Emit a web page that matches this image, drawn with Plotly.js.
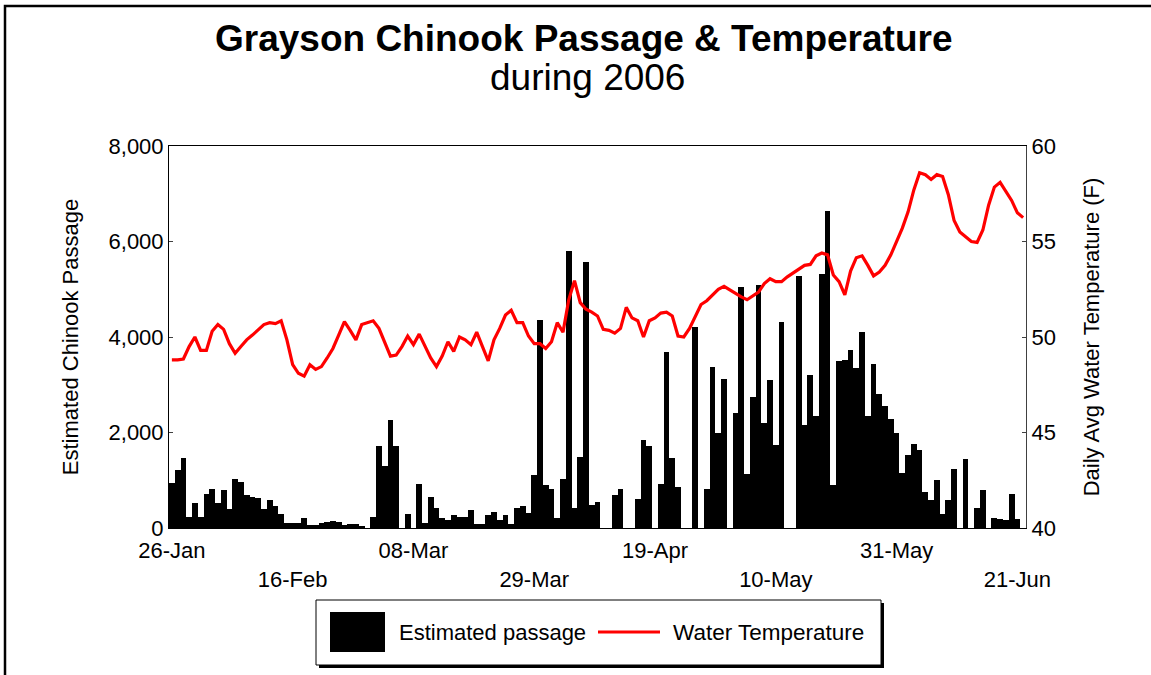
<!DOCTYPE html>
<html>
<head>
<meta charset="utf-8">
<script src="https://cdn.plot.ly/plotly-3.0.1.min.js"></script>
<style>html,body{margin:0;padding:0;background:#fff;}#chart{width:1151px;height:675px;}</style>
</head>
<body>
<div id="chart"></div>
<script>
// Daily estimated passage (fish/day), one value per day starting 26-Jan
const passage = [948,1206,1457,230,516,230,718,808,516,795,
390,1018,962,683,640,630,404,585,460,286,
110,110,98,200,60,60,110,125,145,125,
70,90,80,40,10,240,1715,1296,2270,1715,
10,286,5,927,98,655,411,216,167,265,
237,230,370,77,90,272,342,167,265,77,
425,460,320,1108,4350,892,808,216,1018,5792,
411,1485,5562,480,550,0,0,700,808,0,
0,613,1833,1715,0,927,3687,1470,857,0,
0,4203,0,808,3366,1980,3130,0,2412,5040,
1122,2740,5081,2189,3095,1736,4308,0,0,5283,
2154,3200,2356,5318,6629,892,3500,3520,3736,3353,
4098,2342,3436,2809,2551,2286,1993,1157,1520,1750,
1624,753,578,997,300,578,1241,0,1436,0,
411,795,0,202,181,160,718,195,0];

// Daily average water temperature (F)
const temperature = [48.8,48.8,48.85,49.5,50.0,49.3,49.3,50.3,50.65,50.4,
49.65,49.15,49.5,49.85,50.1,50.4,50.65,50.75,50.7,50.85,
49.85,48.55,48.1,47.95,48.55,48.3,48.45,48.9,49.4,50.1,
50.8,50.35,49.85,50.65,50.75,50.85,50.45,49.7,49.0,49.05,
49.5,50.05,49.6,50.15,49.5,48.9,48.45,49.0,49.75,49.25,
50.0,49.85,49.6,50.25,49.5,48.75,49.85,50.45,51.15,51.4,
50.75,50.75,50.05,49.65,49.65,49.4,49.75,50.75,50.25,51.95,
52.95,51.8,51.45,51.3,51.1,50.4,50.35,50.2,50.45,51.55,
51.0,50.85,50.0,50.85,51.0,51.25,51.3,51.1,50.05,50.0,
50.45,51.1,51.7,51.9,52.2,52.5,52.65,52.45,52.3,52.1,
51.95,52.15,52.35,52.8,53.05,52.9,52.9,53.15,53.35,53.5,
53.75,53.8,54.25,54.4,54.3,53.25,52.9,52.2,53.45,54.15,
54.25,53.75,53.2,53.4,53.75,54.3,55.0,55.7,56.55,57.7,
58.6,58.5,58.25,58.5,58.4,57.45,56.1,55.5,55.25,55.0,
54.95,55.6,56.9,57.85,58.1,57.6,57.15,56.5,56.25];

// Axis labels (every 21st day)
const tickDays = [0,21,42,63,84,105,126,147];
const tickLabels = ['26-Jan','16-Feb','08-Mar','29-Mar','19-Apr','10-May','31-May','21-Jun'];
const leftTicks = [0,2000,4000,6000,8000];
const rightTicks = [40,45,50,55,60];

const titleMain = 'Grayson Chinook Passage & Temperature';
const titleSub = 'during 2006';
const seriesNames = ['Estimated passage','Water Temperature'];

const dayIndex = passage.map((_, i) => i);
const FONT = 'Arial, "Liberation Sans", sans-serif';

// layout geometry helpers (pixels -> paper)
const M = {l:169, r:125, t:146, b:147};
const PW = 1151 - M.l - M.r, PH = 675 - M.t - M.b;
const px = x => (x - M.l) / PW;
const py = y => (675 - M.b - y) / PH;

const traces = [
  {type:'bar', x:dayIndex, y:passage, name:seriesNames[0], width:1,
   marker:{color:'#000000', line:{width:0}}, yaxis:'y', hoverinfo:'x+y'},
  {type:'scatter', mode:'lines', x:dayIndex, y:temperature, name:seriesNames[1],
   line:{color:'#FF0000', width:3.2}, yaxis:'y2'}
];

const shapes = [
  // chart area frame
  {type:'rect', xref:'paper', yref:'paper', x0:px(5), y0:py(700), x1:px(1170), y1:py(6),
   line:{color:'#000', width:2.5}, fillcolor:'rgba(0,0,0,0)', layer:'above'},
  // legend shadow and box
  {type:'rect', xref:'paper', yref:'paper', x0:px(319), y0:py(668), x1:px(884), y1:py(603),
   line:{width:0}, fillcolor:'#000'},
  {type:'rect', xref:'paper', yref:'paper', x0:px(316), y0:py(665), x1:px(881), y1:py(600),
   line:{color:'#000', width:1}, fillcolor:'#fff'},
  // legend symbols
  {type:'rect', xref:'paper', yref:'paper', x0:px(330), y0:py(652), x1:px(385), y1:py(612),
   line:{width:0}, fillcolor:'#000'},
  {type:'line', xref:'paper', yref:'paper', x0:px(598), y0:py(632), x1:px(660), y1:py(632),
   line:{color:'#FF0000', width:3}}
];

const annotations = [
  {text:'<b>'+titleMain+'</b>', xref:'paper', yref:'paper', x:px(584), y:py(38),
   xanchor:'center', yanchor:'middle', showarrow:false, font:{family:FONT, size:37, color:'#000'}},
  {text:titleSub, xref:'paper', yref:'paper', x:px(587), y:py(77),
   xanchor:'center', yanchor:'middle', showarrow:false, font:{family:FONT, size:37, color:'#000'}},
  {text:seriesNames[0], xref:'paper', yref:'paper', x:px(397), y:py(632),
   xanchor:'left', yanchor:'middle', showarrow:false, font:{family:FONT, size:22, color:'#000'}},
  {text:seriesNames[1], xref:'paper', yref:'paper', x:px(671), y:py(632),
   xanchor:'left', yanchor:'middle', showarrow:false, font:{family:FONT, size:22.5, color:'#000'}}
];

const layout = {
  width:1151, height:675,
  margin:M,
  paper_bgcolor:'#fff', plot_bgcolor:'#fff',
  font:{family:FONT, size:22, color:'#000'},
  showlegend:false,
  bargap:0,
  xaxis:{
    range:[-0.5, passage.length - 0.5],
    tickmode:'array', tickvals:tickDays,
    ticktext:tickLabels.map((t,i) => i % 2 ? '<br>' + t : t),
    tickangle:0, ticks:'', showgrid:false, zeroline:false, ticklabelstandoff:3,
    showline:true, linecolor:'#000', linewidth:1, mirror:true,
    tickfont:{family:FONT, size:22, color:'#000'}
  },
  yaxis:{
    range:[0,8000], tickmode:'array', tickvals:leftTicks,
    ticktext:leftTicks.map(v => v.toLocaleString('en-US')),
    ticks:'inside', ticklen:4, tickcolor:'#404040',
    showgrid:false, zeroline:false, showline:true, linecolor:'#000', linewidth:1,
    tickfont:{family:FONT, size:22, color:'#000'},
    title:{text:'Estimated Chinook Passage', font:{family:FONT, size:22, color:'#000'}, standoff:23}
  },
  yaxis2:{
    range:[40,60], tickmode:'array', tickvals:rightTicks, overlaying:'y', side:'right',
    ticks:'inside', ticklen:4, tickcolor:'#404040',
    showgrid:false, zeroline:false, showline:true, linecolor:'#404040', linewidth:1,
    tickfont:{family:FONT, size:22, color:'#000'},
    title:{text:'Daily Avg Water Temperature (F)', font:{family:FONT, size:22, color:'#000'}, standoff:28}
  },
  shapes:shapes,
  annotations:annotations
};

Plotly.newPlot('chart', traces, layout, {displayModeBar:false, staticPlot:true});
</script>
</body>
</html>
